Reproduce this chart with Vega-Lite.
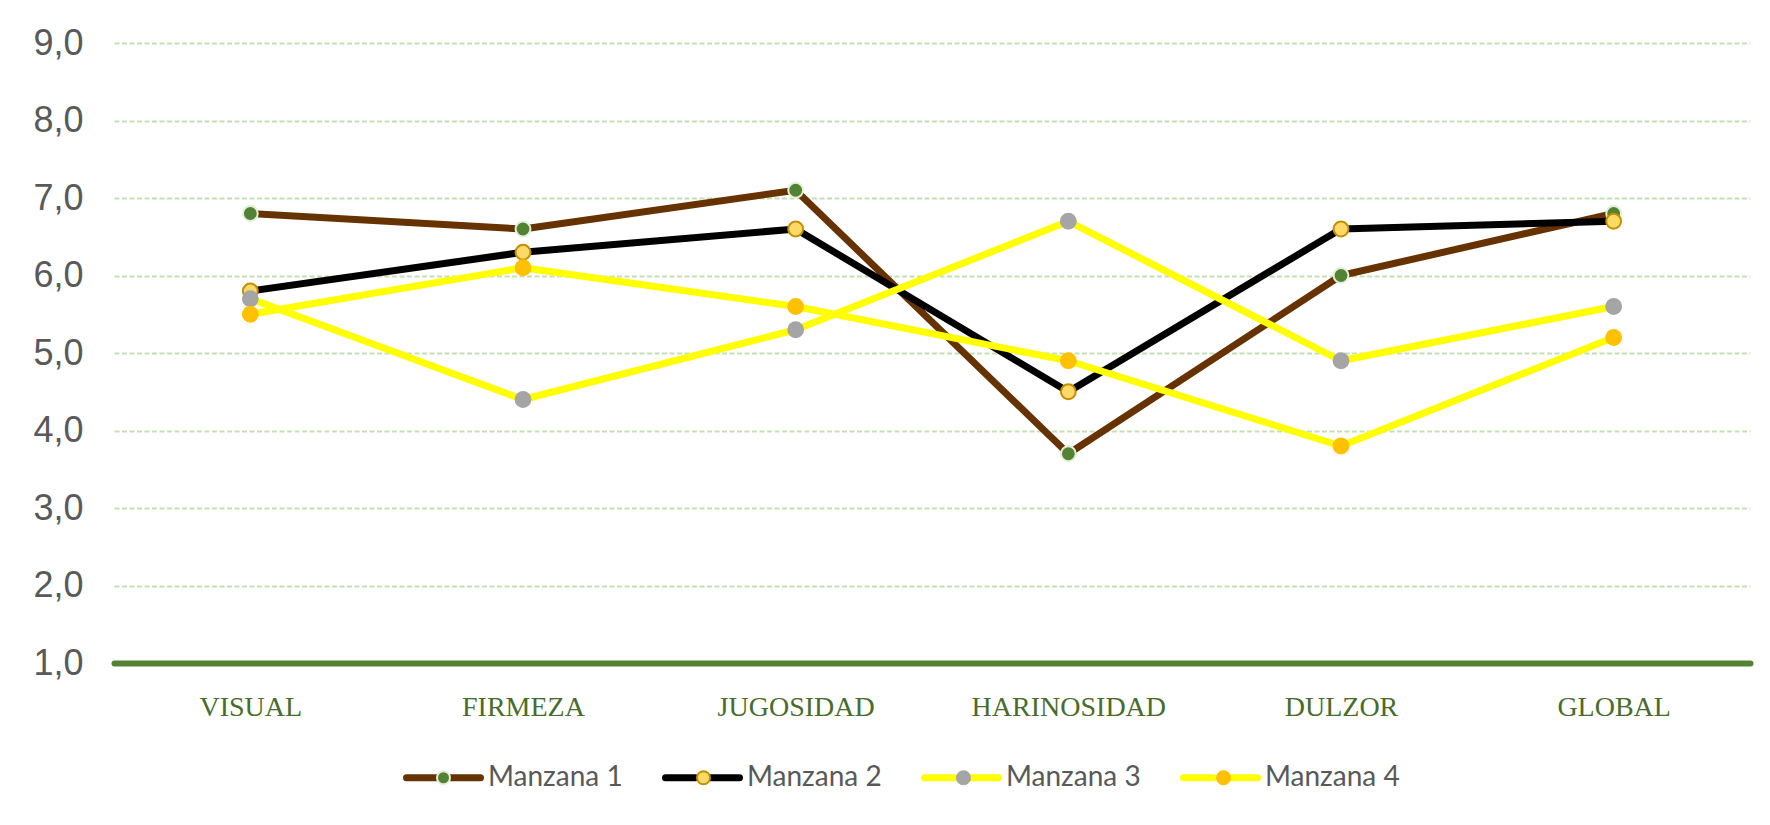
{
  "$schema": "https://vega.github.io/schema/vega-lite/v6.json",
  "width": 1636,
  "height": 620,
  "autosize": "none",
  "padding": {"left": 114, "top": 43, "right": 20, "bottom": 162},
  "background": "white",
  "config": {"view": {"stroke": null}},
  "data": {
    "values": [
      {"criterio": "Visual", "serie": "Manzana 1", "valor": 6.8},
      {"criterio": "Firmeza", "serie": "Manzana 1", "valor": 6.6},
      {"criterio": "Jugosidad", "serie": "Manzana 1", "valor": 7.1},
      {"criterio": "Harinosidad", "serie": "Manzana 1", "valor": 3.7},
      {"criterio": "Dulzor", "serie": "Manzana 1", "valor": 6.0},
      {"criterio": "Global", "serie": "Manzana 1", "valor": 6.8},
      {"criterio": "Visual", "serie": "Manzana 2", "valor": 5.8},
      {"criterio": "Firmeza", "serie": "Manzana 2", "valor": 6.3},
      {"criterio": "Jugosidad", "serie": "Manzana 2", "valor": 6.6},
      {"criterio": "Harinosidad", "serie": "Manzana 2", "valor": 4.5},
      {"criterio": "Dulzor", "serie": "Manzana 2", "valor": 6.6},
      {"criterio": "Global", "serie": "Manzana 2", "valor": 6.7},
      {"criterio": "Visual", "serie": "Manzana 3", "valor": 5.7},
      {"criterio": "Firmeza", "serie": "Manzana 3", "valor": 4.4},
      {"criterio": "Jugosidad", "serie": "Manzana 3", "valor": 5.3},
      {"criterio": "Harinosidad", "serie": "Manzana 3", "valor": 6.7},
      {"criterio": "Dulzor", "serie": "Manzana 3", "valor": 4.9},
      {"criterio": "Global", "serie": "Manzana 3", "valor": 5.6},
      {"criterio": "Visual", "serie": "Manzana 4", "valor": 5.5},
      {"criterio": "Firmeza", "serie": "Manzana 4", "valor": 6.1},
      {"criterio": "Jugosidad", "serie": "Manzana 4", "valor": 5.6},
      {"criterio": "Harinosidad", "serie": "Manzana 4", "valor": 4.9},
      {"criterio": "Dulzor", "serie": "Manzana 4", "valor": 3.8},
      {"criterio": "Global", "serie": "Manzana 4", "valor": 5.2}
    ]
  },
  "encoding": {
    "x": {
      "field": "criterio",
      "type": "nominal",
      "sort": ["Visual", "Firmeza", "Jugosidad", "Harinosidad", "Dulzor", "Global"],
      "scale": {"padding": 0.5},
      "axis": {
        "title": null,
        "labelAngle": 0,
        "ticks": false,
        "grid": false,
        "domainColor": "#548235",
        "domainWidth": 6,
        "domainCap": "round",
        "labelExpr": "upper(datum.label)",
        "labelFont": "Liberation Serif",
        "labelFontSize": 28,
        "labelLimit": 0,
        "labelColor": "#4A6B2D",
        "labelPadding": 30
      }
    },
    "y": {
      "field": "valor",
      "type": "quantitative",
      "scale": {"domain": [1, 9], "nice": false, "zero": false},
      "axis": {
        "title": null,
        "values": [1, 2, 3, 4, 5, 6, 7, 8, 9],
        "labelExpr": "replace(format(datum.value, '.1f'), '.', ',')",
        "labelFont": "Liberation Sans",
        "labelFontSize": 36,
        "labelColor": "#595959",
        "labelPadding": 31,
        "ticks": false,
        "domain": false,
        "grid": true,
        "gridColor": "#C5E0B4",
        "gridWidth": 2,
        "gridDash": [5, 2.5]
      }
    }
  },
  "layer": [
    {
      "mark": {"type": "line", "strokeWidth": 7, "strokeJoin": "round", "strokeCap": "round"},
      "encoding": {
        "stroke": {
          "field": "serie",
          "type": "nominal",
          "scale": {
            "domain": ["Manzana 1", "Manzana 2", "Manzana 3", "Manzana 4"],
            "range": ["#663300", "#000000", "#FFFF00", "#FFFF00"]
          },
          "legend": {
            "orient": "none",
            "legendX": 289,
            "legendY": 694,
            "direction": "horizontal",
            "title": null,
            "padding": 0,
            "symbolType": "M-1,0H-0.19M0.19,0H1",
            "symbolSize": 5476,
            "symbolStrokeWidth": 7,
            "symbolOffset": 0,
            "labelFont": "Lato",
            "labelFontSize": 28,
            "labelColor": "#595959",
            "labelOffset": 4,
            "labelLimit": 0,
            "columnPadding": 28,
            "encode": {"symbols": {"update": {"strokeCap": {"value": "round"}}}}
          }
        }
      }
    },
    {
      "mark": {"type": "point", "filled": true, "size": 220, "strokeWidth": 2, "opacity": 1},
      "encoding": {
        "fill": {
          "field": "serie",
          "type": "nominal",
          "scale": {
            "domain": ["Manzana 1", "Manzana 2", "Manzana 3", "Manzana 4"],
            "range": ["#548235", "#FFD966", "#A5A5A5", "#FFC000"]
          },
          "legend": {
            "orient": "none",
            "legendX": 289,
            "legendY": 694,
            "direction": "horizontal",
            "title": null,
            "padding": 0,
            "symbolType": "M-1,0M1,0M-0.1646,0A0.1646,0.1646,0,1,1,0.1646,0A0.1646,0.1646,0,1,1,-0.1646,0Z",
            "symbolSize": 6241,
            "symbolStrokeWidth": 2,
            "symbolOffset": 0,
            "labelExpr": "''",
            "labelFont": "Lato",
            "labelFontSize": 28,
            "labelOffset": 4,
            "labelLimit": 0,
            "columnPadding": 172,
            "encode": {
              "symbols": {
                "update": {
                  "stroke": {"value": {"expr": "datum.value === 'Manzana 1' ? '#E2F0D9' : datum.value === 'Manzana 2' ? '#BF9000' : datum.value === 'Manzana 3' ? '#A5A5A5' : '#FFC000'"}},
                  "opacity": {"value": 1}
                }
              }
            }
          }
        },
        "stroke": {
          "field": "serie",
          "type": "nominal",
          "scale": {
            "domain": ["Manzana 1", "Manzana 2", "Manzana 3", "Manzana 4"],
            "range": ["#E2F0D9", "#BF9000", "#A5A5A5", "#FFC000"]
          },
          "legend": null
        }
      }
    }
  ],
  "resolve": {
    "scale": {"stroke": "independent"},
    "legend": {"stroke": "independent", "fill": "independent"}
  }
}
